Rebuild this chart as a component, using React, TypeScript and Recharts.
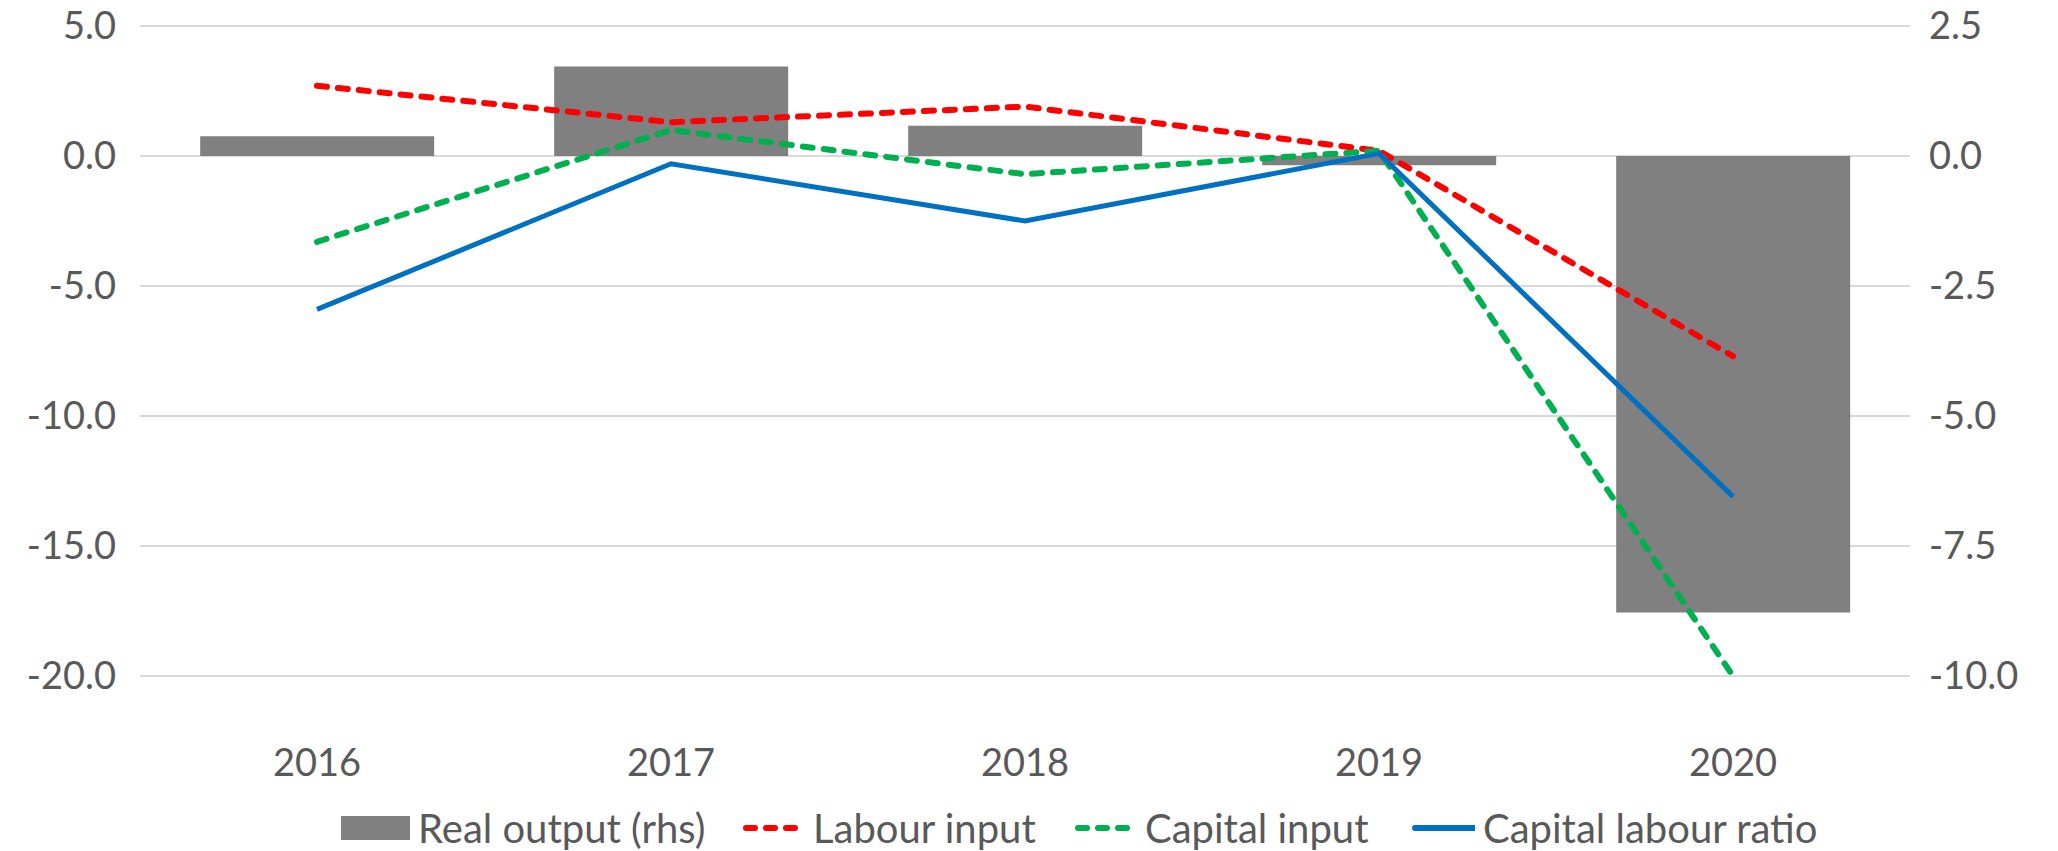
import { ComposedChart, Bar, Line, XAxis, YAxis, CartesianGrid } from 'recharts';

const YEARS = ['2016', '2017', '2018', '2019', '2020'];
const REAL_OUTPUT = [0.38, 1.72, 0.58, -0.18, -8.78];
const LABOUR_INPUT = [2.7, 1.3, 1.9, 0.2, -7.7];
const CAPITAL_INPUT = [-3.3, 1.0, -0.7, 0.2, -20.0];
const CAPITAL_LABOUR_RATIO = [-5.9, -0.3, -2.5, 0.1, -13.1];

const LEFT_TICKS = [5, 0, -5, -10, -15, -20];
const RIGHT_TICKS = [2.5, 0, -2.5, -5, -7.5, -10];

const data = YEARS.map((year, i) => ({
  year,
  realOutput: REAL_OUTPUT[i],
  labour: LABOUR_INPUT[i],
  capital: CAPITAL_INPUT[i],
  ratio: CAPITAL_LABOUR_RATIO[i],
}));

const FONT = 'Lato, "Open Sans", sans-serif';
const TEXT = '#595959';
const tickStyle = { fill: TEXT, fontSize: 38, fontFamily: FONT };

// legend items with their left edge on the page
const LEGEND = [
  { label: 'Real output (rhs)', kind: 'bar', color: '#808080', x: 341 },
  { label: 'Labour input', kind: 'dash', color: '#FF0000', x: 742 },
  { label: 'Capital input', kind: 'dash', color: '#00B050', x: 1074 },
  { label: 'Capital labour ratio', kind: 'solid', color: '#0070C0', x: 1412 },
];

function LegendRow() {
  return (
    <>
      {LEGEND.map(item => (
        <div key={item.label} style={{
          position: 'absolute', left: item.x, top: 806, height: 44,
          display: 'flex', alignItems: 'center', gap: 8,
          fontFamily: FONT, fontSize: 40, color: TEXT, whiteSpace: 'nowrap',
        }}>
          <svg width={item.kind === 'bar' ? 69 : 63} height={30}>
            {item.kind === 'bar' && <rect x={0} y={3} width={69} height={24} fill={item.color} />}
            {item.kind === 'dash' && (
              <line x1={4} y1={15} x2={59} y2={15} stroke={item.color} strokeWidth={6}
                strokeDasharray="9 11" strokeLinecap="round" />
            )}
            {item.kind === 'solid' && (
              <line x1={3} y1={15} x2={62} y2={15} stroke={item.color} strokeWidth={6} strokeLinecap="round" />
            )}
          </svg>
          <span>{item.label}</span>
        </div>
      ))}
    </>
  );
}

export default function App() {
  return (
    <div style={{ position: 'absolute', left: 0, top: 0, width: 2058, height: 851, background: '#fff' }}>
      <ComposedChart
        width={2058}
        height={851}
        data={data}
        margin={{ top: 26, right: 0, bottom: 55, left: 0 }}
        barCategoryGap="17%"
      >
        <CartesianGrid yAxisId="left" vertical={false} stroke="#D9D9D9" strokeWidth={2} />
        <XAxis
          dataKey="year"
          axisLine={false}
          tickLine={false}
          tickSize={0}
          tickMargin={73}
          height={120}
          tick={tickStyle}
        />
        <YAxis
          yAxisId="left"
          width={140}
          domain={[-20, 5]}
          ticks={LEFT_TICKS}
          interval={0}
          allowDataOverflow
          axisLine={false}
          tickLine={false}
          tickSize={0}
          tickMargin={24}
          tick={tickStyle}
          tickFormatter={(v: number) => v.toFixed(1)}
        />
        <YAxis
          yAxisId="right"
          orientation="right"
          width={148}
          domain={[-10, 2.5]}
          ticks={RIGHT_TICKS}
          interval={0}
          allowDataOverflow
          axisLine={false}
          tickLine={false}
          tickSize={0}
          tickMargin={19}
          tick={tickStyle}
          tickFormatter={(v: number) => v.toFixed(1)}
        />
        <Bar yAxisId="right" dataKey="realOutput" fill="#808080" isAnimationActive={false} />
        <Line yAxisId="left" type="linear" dataKey="labour" stroke="#FF0000" strokeWidth={6}
          strokeDasharray="10 11" strokeLinecap="round" dot={false} isAnimationActive={false} />
        <Line yAxisId="left" type="linear" dataKey="capital" stroke="#00B050" strokeWidth={6}
          strokeDasharray="10 11" strokeLinecap="round" dot={false} isAnimationActive={false} />
        <Line yAxisId="left" type="linear" dataKey="ratio" stroke="#0070C0" strokeWidth={5}
          dot={false} isAnimationActive={false} />
      </ComposedChart>
      <LegendRow />
    </div>
  );
}
